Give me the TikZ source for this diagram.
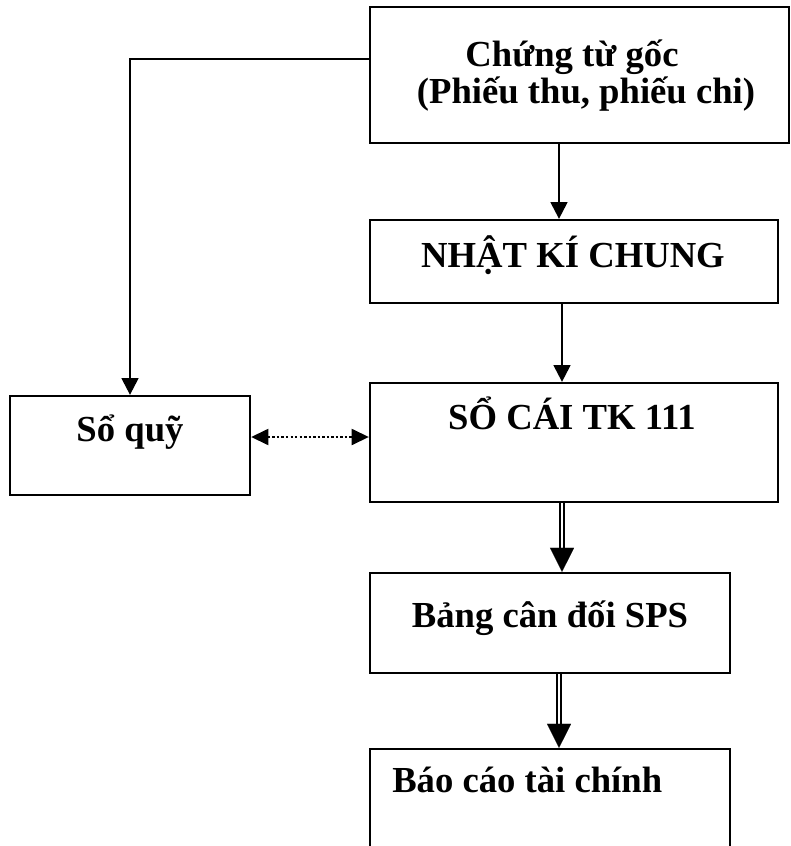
\documentclass[tikz,border=0pt]{standalone}
\usepackage{fontspec}
\setmainfont{Liberation Serif}
\usetikzlibrary{arrows.meta,calc}
\begin{document}
\begin{tikzpicture}[x=0.75pt,y=-0.75pt,
  box/.style={draw,line width=1.7pt,minimum width=#1,inner sep=0pt},
  lbl/.style={font=\fontsize{27.5}{30}\selectfont\bfseries,inner sep=0pt,anchor=base},
  arr/.style={line width=1.7pt,-{Triangle[length=12.5pt,width=12.5pt]}},
  dbl/.style={double,double distance=1.6pt,line width=1.6pt},
  bigtip/.style={line width=0.1pt,-{Triangle[length=18pt,width=18pt]}},
  dotarr/.style={line width=1.8pt,dash pattern=on 1.8pt off 1.6pt,{Triangle[length=13pt,width=12pt]}-{Triangle[length=13pt,width=12pt]}}]
\useasboundingbox (0,0) rectangle (791,846);

% boxes
\node[box=314.25pt,minimum height=102pt] (goc) at (579.5,75) {};
\node[box=306pt,minimum height=62.25pt] (nkc) at (574,261.5) {};
\node[box=306pt,minimum height=89.25pt] (socai) at (574,442.5) {};
\node[box=180pt,minimum height=74.25pt] (soquy) at (130,445.5) {};
\node[box=270pt,minimum height=75pt] (bang) at (550,623) {};
\node[box=270pt,minimum height=90.75pt] (bctc) at (550,809.5) {};

% labels
\node[lbl] (tgoc1) at (572,66) {Chứng từ gốc};
\node[lbl] (tgoc2) at (586,103) {(Phiếu thu, phiếu chi)};
\node[lbl] (tnkc) at (573,267) {NHẬT KÍ CHUNG};
\node[lbl] (tsocai) at (572,429) {SỔ CÁI TK 111};
\node[lbl] (tsoquy) at (130,441) {Sổ quỹ};
\node[lbl] (tbang) at (550,627) {Bảng cân đối SPS};
\node[lbl,anchor=base west] (tbctc) at (392,792) {Báo cáo tài chính};

% routing helpers
\coordinate (xa) at (559,0);
\coordinate (xb) at (562,0);
\coordinate (bend) at (130,59);
\coordinate (ydot) at (0,437);

% single arrows
\draw[arr] (goc.south -| xa) -- (nkc.north -| xa);
\draw[arr] (nkc.south -| xb) -- (socai.north -| xb);
\draw[arr] (bend -| goc.west) -- (bend) -- (soquy.north);

% dotted two-way link
\draw[dotarr] (soquy.east |- ydot) -- (socai.west |- ydot);

% double arrows
\draw[dbl] (socai.south -| xb) -- ($(bang.north -| xb)+(0,-20)$);
\draw[bigtip] ($(bang.north -| xb)+(0,-24)$) -- (bang.north -| xb);
\draw[dbl] (bang.south -| xa) -- ($(bctc.north -| xa)+(0,-20)$);
\draw[bigtip] ($(bctc.north -| xa)+(0,-24)$) -- (bctc.north -| xa);
\end{tikzpicture}
\end{document}
